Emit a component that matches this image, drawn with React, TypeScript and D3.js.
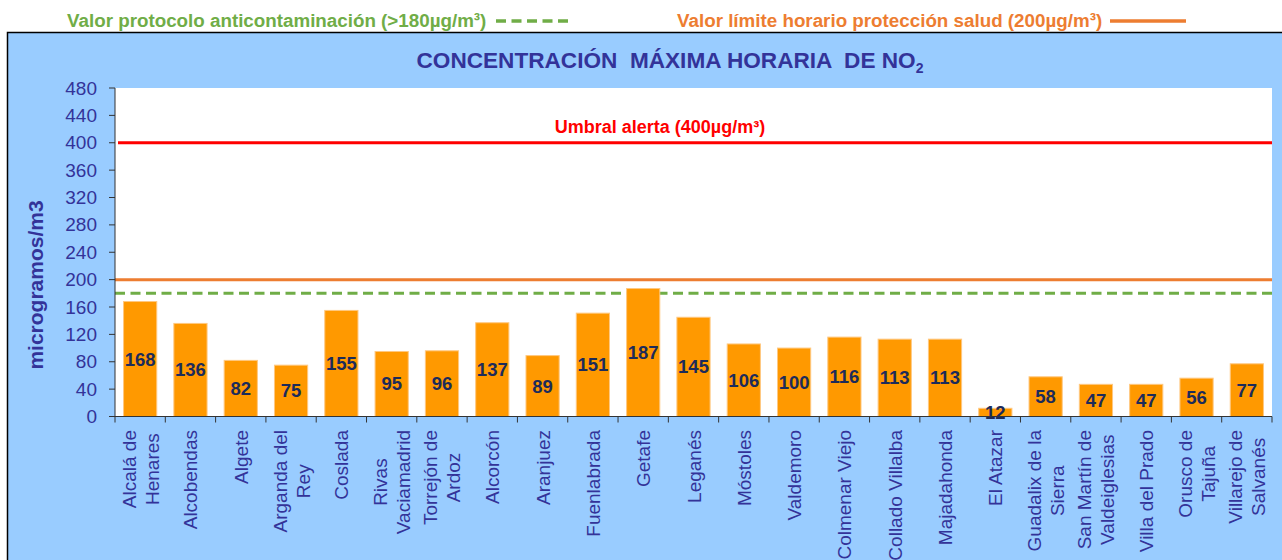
import React, { useEffect, useRef } from "react";
import * as d3 from "d3";

const categories = [
  "Alcalá de\nHenares", "Alcobendas", "Algete", "Arganda del\nRey", "Coslada",
  "Rivas\nVaciamadrid", "Torrejón de\nArdoz", "Alcorcón", "Aranjuez", "Fuenlabrada",
  "Getafe", "Leganés", "Móstoles", "Valdemoro", "Colmenar Viejo", "Collado Villalba",
  "Majadahonda", "El Atazar", "Guadalix de la\nSierra", "San Martín de\nValdeiglesias",
  "Villa del Prado", "Orusco de\nTajuña", "Villarejo de\nSalvanés",
];
const values = [168, 136, 82, 75, 155, 95, 96, 137, 89, 151, 187, 145, 106, 100, 116, 113, 113, 12, 58, 47, 47, 56, 77];
const yTicks = [0, 40, 80, 120, 160, 200, 240, 280, 320, 360, 400, 440, 480];
const alertValue = 400;
const limitValue = 200;
const protocolValue = 180;

const title = "CONCENTRACIÓN  MÁXIMA HORARIA  DE NO";
const titleSub = "2";
const yLabel = "microgramos/m3";
const alertLabel = "Umbral alerta (400µg/m³)";
const protocolLegend = "Valor protocolo anticontaminación (>180µg/m³)";
const limitLegend = "Valor límite horario protección salud (200µg/m³)";

const FONT = "'Liberation Sans', Arial, sans-serif";
const W = 1282, H = 560;
const M = { left: 115, right: 1272, top: 88, bottom: 416.5 };

export default function App() {
  const ref = useRef<SVGSVGElement>(null);
  useEffect(() => {
    document.body.style.margin = "0";
    const svg = d3.select(ref.current!);
    svg.selectAll("*").remove();

    // legend on top
    svg.append("text").attr("x", 67).attr("y", 27).attr("font-family", FONT)
      .attr("font-weight", "bold").attr("font-size", 18.8).attr("fill", "#70AD47").text(protocolLegend);
    svg.append("line").attr("x1", 496).attr("x2", 569).attr("y1", 21).attr("y2", 21)
      .attr("stroke", "#70AD47").attr("stroke-width", 3.5).attr("stroke-dasharray", "10,5.5");
    svg.append("text").attr("x", 677).attr("y", 27).attr("font-family", FONT)
      .attr("font-weight", "bold").attr("font-size", 18.8).attr("fill", "#ED7D31").text(limitLegend);
    svg.append("line").attr("x1", 1110).attr("x2", 1186).attr("y1", 21).attr("y2", 21)
      .attr("stroke", "#ED7D31").attr("stroke-width", 3.5);

    // panel
    svg.append("rect").attr("x", 7.5).attr("y", 32.5).attr("width", W + 10).attr("height", H)
      .attr("fill", "#99CCFF").attr("stroke", "#000").attr("stroke-width", 1.5);

    // title
    const t = svg.append("text").attr("x", 670).attr("y", 68).attr("text-anchor", "middle")
      .attr("font-family", FONT).attr("font-weight", "bold").attr("font-size", 22.6)
      .attr("fill", "#333399").attr("xml:space", "preserve").style("white-space", "pre");
    t.append("tspan").text(title);
    t.append("tspan").attr("font-size", 14).attr("dy", 5).text(titleSub);

    const x = d3.scaleBand<number>().domain(d3.range(categories.length))
      .range([M.left, M.right]).paddingInner(0.34).paddingOuter(0.17);
    const y = d3.scaleLinear().domain([0, 480]).range([M.bottom, M.top]);

    // plot area
    svg.append("rect").attr("x", M.left).attr("y", M.top).attr("width", M.right - M.left)
      .attr("height", M.bottom - M.top).attr("fill", "#fff");

    // reference lines
    svg.append("line").attr("x1", M.left + 3).attr("x2", M.right).attr("y1", y(alertValue)).attr("y2", y(alertValue))
      .attr("stroke", "#FF0000").attr("stroke-width", 3);
    svg.append("line").attr("x1", M.left).attr("x2", M.right).attr("y1", y(limitValue)).attr("y2", y(limitValue))
      .attr("stroke", "#ED7D31").attr("stroke-width", 3);
    svg.append("line").attr("x1", M.left).attr("x2", M.right).attr("y1", y(protocolValue)).attr("y2", y(protocolValue))
      .attr("stroke", "#70AD47").attr("stroke-width", 3).attr("stroke-dasharray", "10,5.5");

    svg.append("text").attr("x", 660).attr("y", 133).attr("text-anchor", "middle")
      .attr("font-family", FONT).attr("font-weight", "bold").attr("font-size", 18)
      .attr("fill", "#FF0000").text(alertLabel);

    // bars
    svg.append("g").selectAll("rect").data(values).join("rect")
      .attr("x", (_, i) => x(i)!).attr("width", x.bandwidth())
      .attr("y", (d) => y(d)).attr("height", (d) => M.bottom - y(d))
      .attr("fill", "#FF9900").attr("stroke", "#FFC880").attr("stroke-width", 1);

    svg.append("g").selectAll("text").data(values).join("text")
      .attr("x", (_, i) => x(i)! + x.bandwidth() / 2)
      .attr("y", (d) => (y(d) + M.bottom) / 2)
      .attr("text-anchor", "middle").attr("dominant-baseline", "central")
      .attr("font-family", FONT).attr("font-weight", "bold").attr("font-size", 18.5)
      .attr("fill", "#1C2B5A").text((d) => String(d));

    // y axis
    const ya = svg.append("g");
    ya.append("line").attr("x1", M.left).attr("x2", M.left).attr("y1", M.top).attr("y2", M.bottom)
      .attr("stroke", "#333").attr("stroke-width", 1);
    yTicks.forEach((v) => {
      ya.append("line").attr("x1", M.left - 6).attr("x2", M.left).attr("y1", y(v)).attr("y2", y(v))
        .attr("stroke", "#333");
      ya.append("text").attr("x", 97).attr("y", y(v)).attr("text-anchor", "end")
        .attr("dominant-baseline", "central").attr("font-family", FONT).attr("font-size", 19)
        .attr("fill", "#333399").text(String(v));
    });
    svg.append("text").attr("transform", `translate(43,285) rotate(-90)`).attr("text-anchor", "middle")
      .attr("font-family", FONT).attr("font-weight", "bold").attr("font-size", 21)
      .attr("fill", "#333399").text(yLabel);

    // x axis
    const xa = svg.append("g");
    xa.append("line").attr("x1", M.left).attr("x2", M.right).attr("y1", M.bottom).attr("y2", M.bottom)
      .attr("stroke", "#333");
    const step = x.step();
    d3.range(categories.length + 1).forEach((i) => {
      const xx = M.left + i * step;
      xa.append("line").attr("x1", xx).attr("x2", xx).attr("y1", M.bottom).attr("y2", M.bottom + 6)
        .attr("stroke", "#333");
    });
    categories.forEach((c, i) => {
      const cx = x(i)! + x.bandwidth() / 2;
      const lines = c.split("\n");
      const n = lines.length;
      const texts = lines.map((ln) =>
        xa.append("text").attr("font-family", FONT).attr("font-size", 19).attr("fill", "#333399")
          .attr("text-anchor", "middle").text(ln)
      );
      const maxLen = d3.max(texts, (tt) => (tt.node() as SVGTextElement).getComputedTextLength()) || 0;
      const cy = 430 + maxLen / 2;
      texts.forEach((tt, j) => {
        const bx = cx + (j - (n - 1) / 2) * 23 + 7;
        tt.attr("transform", `translate(${bx},${cy}) rotate(-90)`);
      });
    });
  }, []);
  return <svg ref={ref} width={W} height={H} style={{ display: "block" }} />;
}
